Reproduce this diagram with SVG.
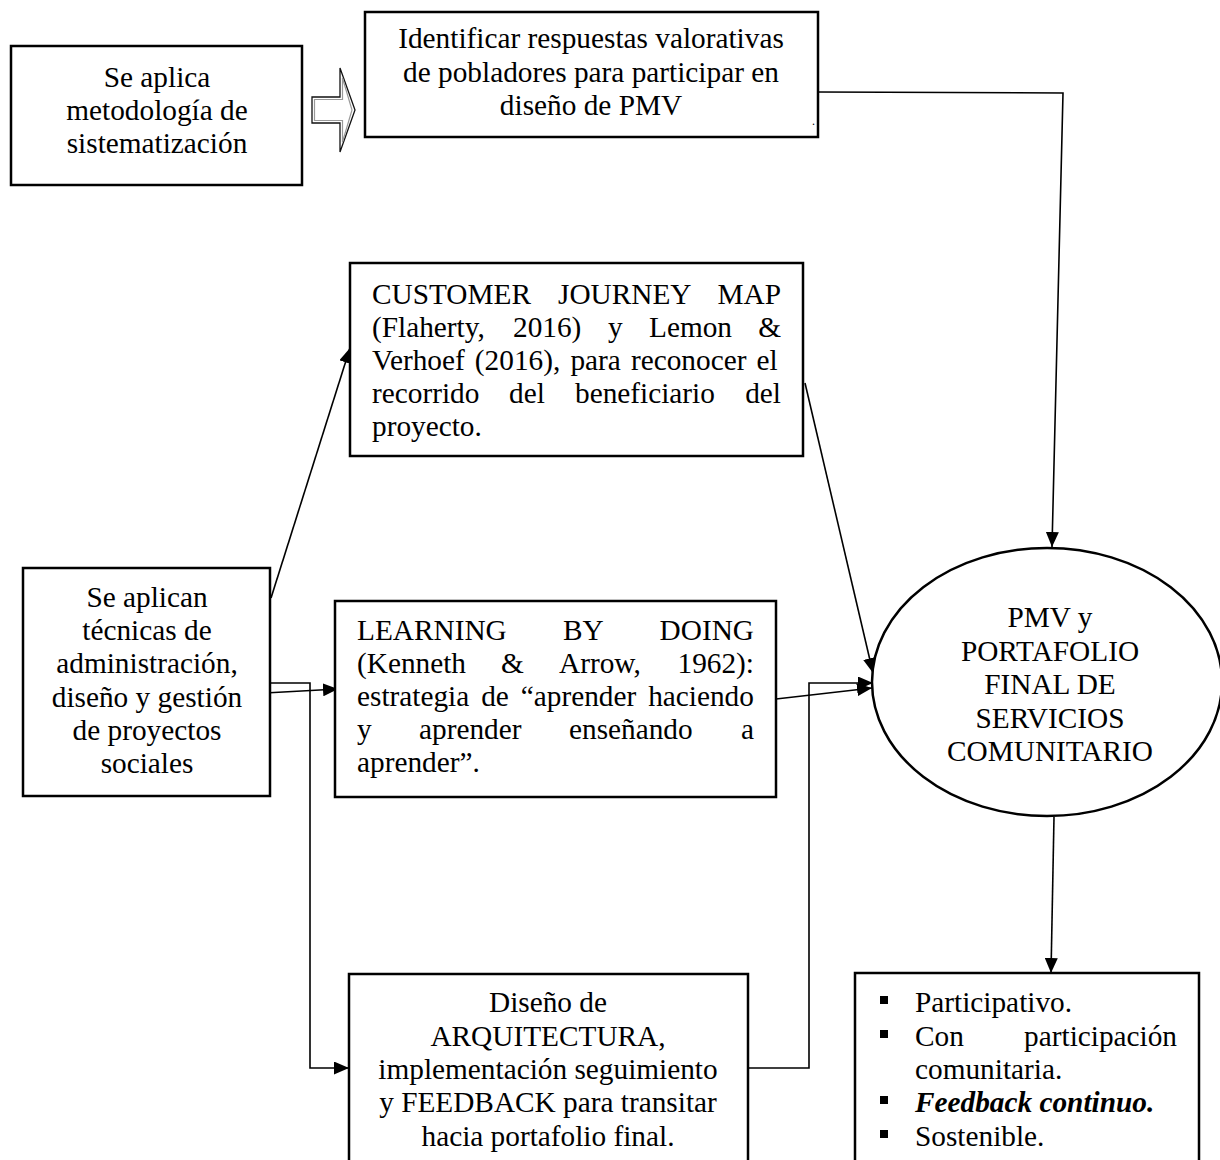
<svg xmlns="http://www.w3.org/2000/svg" width="1220" height="1160" viewBox="0 0 1220 1160">
<style>
.box{fill:#fff;stroke:#000;stroke-width:2.5}
.t{font-family:"Liberation Serif","Times New Roman",serif;font-size:29.3px;fill:#000}
.c{text-anchor:middle}
.ln{fill:none;stroke:#000;stroke-width:1.6}
.bi{font-weight:bold;font-style:italic}
</style>
<defs>
<marker id="ah" viewBox="0 0 15 13" refX="15" refY="6.5" markerWidth="15" markerHeight="13" markerUnits="userSpaceOnUse" orient="auto">
<path d="M0,0 L15,6.5 L0,13 z" fill="#000"/>
</marker>
</defs>
<rect width="1220" height="1160" fill="#fff"/>

<g id="connectors">
<g id="hollow-arrow">
<polygon points="312,97 340,97 340,68 355,110 340,152 340,123 312,123" fill="#fff" stroke="#111" stroke-width="1.3"/>
<polygon points="314.5,99.5 342.5,99.5 342.5,78 352,110 342.5,142 342.5,120.5 314.5,120.5" fill="none" stroke="#999" stroke-width="1.2"/>
</g>
<polyline class="ln" points="818,92 1063,93 1052,547" marker-end="url(#ah)"/>
<line class="ln" x1="271" y1="598" x2="350" y2="348" marker-end="url(#ah)"/>
<line class="ln" x1="805" y1="383" x2="873" y2="673" marker-end="url(#ah)"/>
<line class="ln" x1="265" y1="693" x2="338" y2="689" marker-end="url(#ah)"/>
<polyline class="ln" points="270,683 310,683 310,1068 349,1068" marker-end="url(#ah)"/>
<line class="ln" x1="776" y1="699" x2="872" y2="688" marker-end="url(#ah)"/>
<polyline class="ln" points="748,1068 809,1068 809,683 873,683" marker-end="url(#ah)"/>
<line class="ln" x1="1054" y1="817" x2="1051" y2="973" marker-end="url(#ah)"/>
</g>

<g id="n1">
<rect class="box" x="11" y="46" width="291" height="139"/>
<text class="t c"><tspan x="157" y="87">Se aplica</tspan><tspan x="157" y="120">metodología de</tspan><tspan x="157" y="153">sistematización</tspan></text>
</g>

<g id="n2">
<rect class="box" x="365" y="12" width="453" height="125"/>
<text class="t c"><tspan x="591" y="48">Identificar respuestas valorativas</tspan><tspan x="591" y="82">de pobladores para participar en</tspan><tspan x="591" y="115">diseño de PMV</tspan></text>
<text x="812" y="125" font-family="Liberation Serif, serif" font-size="12">.</text>
</g>

<g id="n3">
<rect class="box" x="350" y="263" width="453" height="193"/>
<text class="t"><tspan x="372" y="304">CUSTOMER</tspan><tspan x="558" y="304">JOURNEY</tspan><tspan x="781" y="304" text-anchor="end">MAP</tspan></text>
<text class="t"><tspan x="372" y="337">(Flaherty,</tspan><tspan x="513" y="337">2016)</tspan><tspan x="608" y="337">y</tspan><tspan x="649" y="337">Lemon</tspan><tspan x="781" y="337" text-anchor="end">&amp;</tspan></text>
<text class="t" x="372" y="370" word-spacing="2.8">Verhoef (2016), para reconocer el</text>
<text class="t"><tspan x="372" y="403">recorrido</tspan><tspan x="509" y="403">del</tspan><tspan x="575" y="403">beneficiario</tspan><tspan x="781" y="403" text-anchor="end">del</tspan></text>
<text class="t" x="372" y="436">proyecto.</text>
</g>

<g id="n4">
<rect class="box" x="23" y="568" width="247" height="228"/>
<text class="t c"><tspan x="147" y="607">Se aplican</tspan><tspan x="147" y="640">técnicas de</tspan><tspan x="147" y="673">administración,</tspan><tspan x="147" y="707">diseño y gestión</tspan><tspan x="147" y="740">de proyectos</tspan><tspan x="147" y="773">sociales</tspan></text>
</g>

<g id="n5">
<rect class="box" x="335" y="601" width="441" height="196"/>
<text class="t"><tspan x="357" y="640">LEARNING</tspan><tspan x="563" y="640">BY</tspan><tspan x="754" y="640" text-anchor="end">DOING</tspan></text>
<text class="t"><tspan x="357" y="673">(Kenneth</tspan><tspan x="501" y="673">&amp;</tspan><tspan x="559" y="673">Arrow,</tspan><tspan x="754" y="673" text-anchor="end">1962):</tspan></text>
<text class="t" x="357" y="706" word-spacing="4.6">estrategia de “aprender haciendo</text>
<text class="t"><tspan x="357" y="739">y</tspan><tspan x="419" y="739">aprender</tspan><tspan x="569" y="739">enseñando</tspan><tspan x="754" y="739" text-anchor="end">a</tspan></text>
<text class="t" x="357" y="772">aprender”.</text>
</g>

<g id="n6">
<rect class="box" x="349" y="974" width="399" height="200"/>
<text class="t c"><tspan x="548" y="1012">Diseño de</tspan><tspan x="548" y="1046">ARQUITECTURA,</tspan><tspan x="548" y="1079">implementación seguimiento</tspan><tspan x="548" y="1112">y FEEDBACK para transitar</tspan><tspan x="548" y="1146">hacia portafolio final.</tspan></text>
</g>

<g id="n7">
<ellipse cx="1047" cy="682" rx="175" ry="134" fill="#fff" stroke="#000" stroke-width="2.5"/>
<text class="t c"><tspan x="1050" y="627">PMV y</tspan><tspan x="1050" y="661">PORTAFOLIO</tspan><tspan x="1050" y="694">FINAL DE</tspan><tspan x="1050" y="728">SERVICIOS</tspan><tspan x="1050" y="761">COMUNITARIO</tspan></text>
</g>

<g id="n8">
<rect class="box" x="855" y="973" width="344" height="200"/>
<rect x="880" y="996" width="8" height="8"/>
<rect x="880" y="1030" width="8" height="8"/>
<rect x="880" y="1096" width="8" height="8"/>
<rect x="880" y="1130" width="8" height="8"/>
<text class="t" x="915" y="1012">Participativo.</text>
<text class="t"><tspan x="915" y="1046">Con</tspan><tspan x="1177" y="1046" text-anchor="end">participación</tspan></text>
<text class="t" x="915" y="1079">comunitaria.</text>
<text class="t bi" x="915" y="1112">Feedback continuo.</text>
<text class="t" x="915" y="1146">Sostenible.</text>
</g>
</svg>
